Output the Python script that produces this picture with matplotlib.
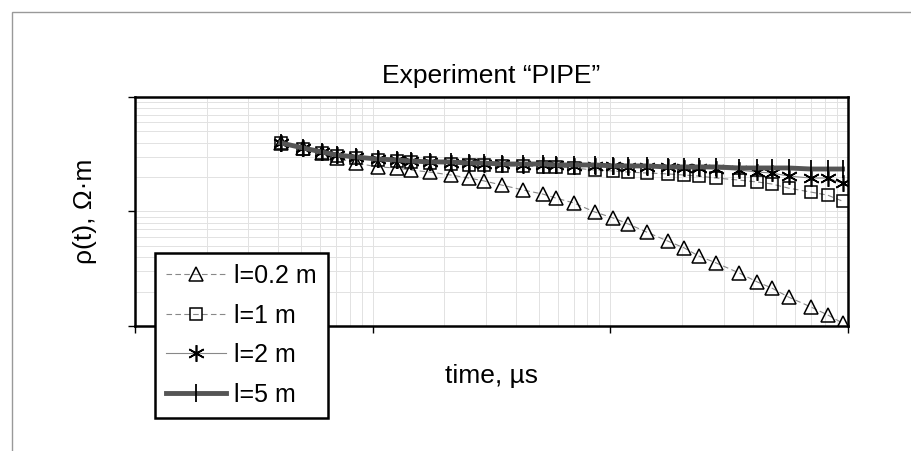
import matplotlib
matplotlib.use("Agg")
import matplotlib.pyplot as plt
from matplotlib.patches import Rectangle

plt.rcParams['font.family'] = ['Liberation Sans', 'DejaVu Sans']

# time samples, us (log axis)
time_us = [4.1, 5.1, 6.1, 7.1, 8.5, 10.5, 12.6, 14.5, 17.4, 21.4, 25.4, 29.4,
           35, 43, 52, 59, 70, 86, 103, 119, 142, 174, 205, 235,
           279, 349, 416, 477, 562, 696, 821, 949]

rho_02 = [3.97, 3.59, 3.24, 2.93, 2.65, 2.45, 2.40, 2.30, 2.21, 2.08, 1.96, 1.85,
          1.70, 1.54, 1.42, 1.31, 1.19, 0.99, 0.877, 0.778, 0.662, 0.553, 0.480, 0.409,
          0.355, 0.290, 0.242, 0.215, 0.179, 0.147, 0.125, 0.106]
rho_1 = [3.97, 3.51, 3.24, 3.05, 2.93, 2.82, 2.76, 2.71, 2.65, 2.60, 2.55, 2.55,
         2.50, 2.50, 2.45, 2.45, 2.40, 2.30, 2.26, 2.21, 2.17, 2.13, 2.08, 2.04,
         1.96, 1.88, 1.81, 1.74, 1.60, 1.48, 1.39, 1.23]
rho_2 = [3.97, 3.59, 3.31, 3.11, 2.99, 2.87, 2.82, 2.76, 2.71, 2.65, 2.65, 2.60,
         2.60, 2.55, 2.55, 2.55, 2.50, 2.50, 2.50, 2.45, 2.45, 2.45, 2.40, 2.40,
         2.35, 2.30, 2.21, 2.17, 2.04, 1.96, 1.96, 1.77]
rho_5 = [3.97, 3.59, 3.31, 3.11, 2.99, 2.87, 2.82, 2.76, 2.71, 2.71, 2.65, 2.65,
         2.60, 2.60, 2.60, 2.55, 2.55, 2.55, 2.50, 2.50, 2.50, 2.45, 2.45, 2.45,
         2.45, 2.40, 2.40, 2.40, 2.40, 2.35, 2.35, 2.35]

labels = ['l=0.2 m', 'l=1 m', 'l=2 m', 'l=5 m']

fig = plt.figure(figsize=(9.11, 4.51), dpi=100)
ax = fig.add_axes([135/911, 1 - 326/451, 713/911, 229/451])

# page frame from the scan
fig.patches.append(Rectangle((12/911, -0.01), 1.2, 1 - 12/451 + 0.01,
                             transform=fig.transFigure, fill=False,
                             edgecolor='#999999', lw=1))

ax.plot(time_us, rho_02, color='#888888', lw=0.8, ls=(0, (5, 3)),
        marker='^', ms=9.5, mfc='none', mec='black', mew=1.1, label=labels[0])
ax.plot(time_us, rho_1, color='#888888', lw=0.8, ls=(0, (5, 3)),
        marker='s', ms=8.5, mfc='none', mec='black', mew=1.1, label=labels[1])
ax.plot(time_us, rho_2, color='#888888', lw=0.8,
        marker=(6, 2, 0), ms=12, mec='black', mew=1.2, label=labels[2])
ax.plot(time_us, rho_5, color='#555555', lw=3.5,
        marker='|', ms=13, mec='black', mew=1.3, label=labels[3])

ax.set_xscale('log')
ax.set_yscale('log')
ax.set_xlim(1, 1000)
ax.set_ylim(0.1, 10)

ax.grid(True, which='both', color='#e2e2e2', lw=0.7)
ax.set_axisbelow(True)
ax.minorticks_on()
ax.tick_params(which='minor', length=0)
ax.tick_params(which='major', length=5, width=1, direction='out',
               labelbottom=False, labelleft=False)
for s in ax.spines.values():
    s.set_linewidth(1.8)

ax.set_title('Experiment \u201cPIPE\u201d', fontsize=19, pad=10)
ax.set_ylabel('\u03c1(t), \u03a9\u00b7m', fontsize=19, labelpad=22)
ax.set_xlabel('time, \u00b5s', fontsize=19, labelpad=22)

leg = ax.legend(loc='upper left', bbox_to_anchor=(0.028, 0.319),
                borderaxespad=0, fontsize=18, fancybox=False, framealpha=1,
                edgecolor='black', handlelength=2.4, labelspacing=0.62,
                handletextpad=0.3, borderpad=0.45)
leg.get_frame().set_linewidth(1.8)

fig.savefig('out.png', dpi=100)
